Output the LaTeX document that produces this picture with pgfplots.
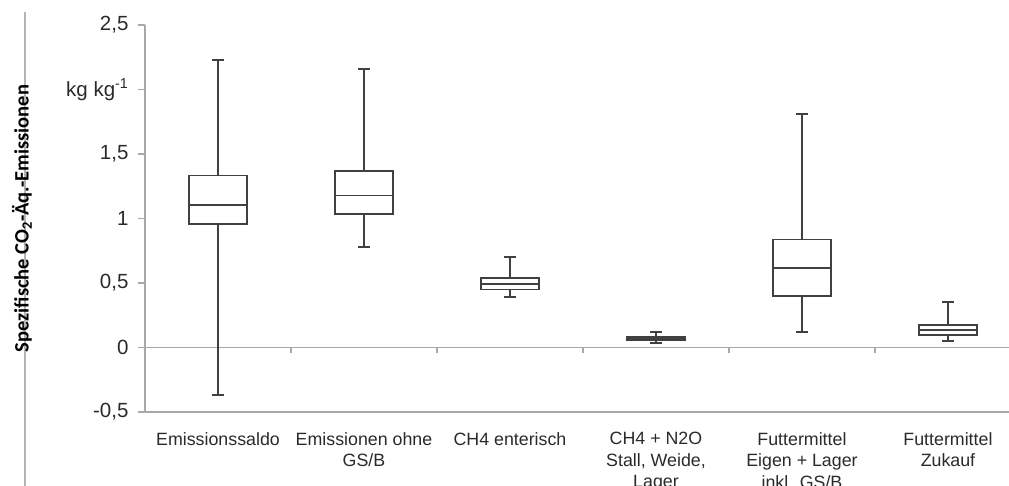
\documentclass[border=0pt]{standalone}
\usepackage{pgfplots}
\pgfplotsset{compat=1.18}
\usepgfplotslibrary{statistics}
\usepackage{fontspec}
\setmainfont{Liberation Sans}
\newfontfamily\labelfont{Carlito}
\definecolor{boxgray}{HTML}{404040}
\definecolor{axgray}{HTML}{A8A8A8}
\definecolor{txtgray}{HTML}{2A2A2A}

\begin{document}
\begin{tikzpicture}
\begin{axis}[
  scale only axis,
  width=864pt, height=387pt,
  xmin=0.5, xmax=6.418,
  ymin=-0.5, ymax=2.5,
  axis x line*=bottom, axis y line*=left,
  axis line style={axgray, line width=1.5pt},
  xtick={1,...,6},
  xticklabels={Emissionssaldo, Emissionen ohne\\GS/B, CH4 enterisch,
    CH4 + N2O\\Stall{,} Weide{,}\\Lager, Futtermittel\\Eigen + Lager\\inkl. GS/B,
    Futtermittel\\Zukauf},
  ytick={-0.5,0,0.5,1,1.5,2,2.5},
  yticklabels={{-0,5}, 0, {0,5}, 1, {1,5}, {kg kg\textsuperscript{-1}}, {2,5}},
  x tick style={draw=none},
  y tick style={axgray, line width=1.3pt},
  tick align=outside,
  major tick length=7pt,
  yticklabel style={font=\fontsize{20.5}{22}\selectfont, text=txtgray, xshift=-6pt},
  xticklabel style={font=\fontsize{17.8}{21.5}\selectfont, text=txtgray,
    align=center, anchor=north, yshift=-10pt},
  ylabel={\labelfont\bfseries Spezifische CO\textsubscript{2}-Äq.-Emissionen},
  ylabel style={at={(axis description cs:-0.1424,0.5)}, anchor=center,
    font=\fontsize{20.5}{22}\selectfont, text=black},
  clip=false,
  boxplot/draw direction=y,
  boxplot/box extend=0.4,
  boxplot/whisker extend=0.085,
]
\coordinate (sw) at (rel axis cs:0,0);
\coordinate (ne) at (rel axis cs:1,1);
% separator line at the far left
\draw[axgray!85, line width=1.5pt] ([shift={(-120pt,-80pt)}]sw) -- ([shift={(-120pt,400pt)}]sw);
% zero line with category boundary ticks
\draw[axgray, line width=1.5pt] (axis cs:0.5,0) -- (axis cs:6.418,0);
\draw[axgray, line width=1.2pt] (axis cs:1.5,0) -- ([yshift=-5pt]axis cs:1.5,0);
\draw[axgray, line width=1.2pt] (axis cs:2.5,0) -- ([yshift=-5pt]axis cs:2.5,0);
\draw[axgray, line width=1.2pt] (axis cs:3.5,0) -- ([yshift=-5pt]axis cs:3.5,0);
\draw[axgray, line width=1.2pt] (axis cs:4.5,0) -- ([yshift=-5pt]axis cs:4.5,0);
\draw[axgray, line width=1.2pt] (axis cs:5.5,0) -- ([yshift=-5pt]axis cs:5.5,0);

\addplot[draw=boxgray, fill=white, line width=1.9pt, solid,
  boxplot prepared={draw position=1, lower whisker=-0.37, lower quartile=0.96,
    median=1.105, upper quartile=1.333, upper whisker=2.23}] coordinates {};
\addplot[draw=boxgray, fill=white, line width=1.9pt, solid,
  boxplot prepared={draw position=2, lower whisker=0.778, lower quartile=1.036,
    median=1.178, upper quartile=1.367, upper whisker=2.16}] coordinates {};
\addplot[draw=boxgray, fill=white, line width=1.9pt, solid,
  boxplot prepared={draw position=3, lower whisker=0.39, lower quartile=0.45,
    median=0.493, upper quartile=0.537, upper whisker=0.705}] coordinates {};
\addplot[draw=boxgray, fill=white, line width=1.9pt, solid,
  boxplot prepared={draw position=4, lower whisker=0.036, lower quartile=0.057,
    median=0.07, upper quartile=0.083, upper whisker=0.119}] coordinates {};
\addplot[draw=boxgray, fill=white, line width=1.9pt, solid,
  boxplot prepared={draw position=5, lower whisker=0.119, lower quartile=0.398,
    median=0.618, upper quartile=0.837, upper whisker=1.81}] coordinates {};
\addplot[draw=boxgray, fill=white, line width=1.9pt, solid,
  boxplot prepared={draw position=6, lower whisker=0.047, lower quartile=0.096,
    median=0.134, upper quartile=0.171, upper whisker=0.351}] coordinates {};
\end{axis}
\pgfresetboundingbox
\path ([shift={(-145pt,-73pt)}]sw) rectangle ([shift={(0pt,25pt)}]ne);
\end{tikzpicture}
\end{document}
